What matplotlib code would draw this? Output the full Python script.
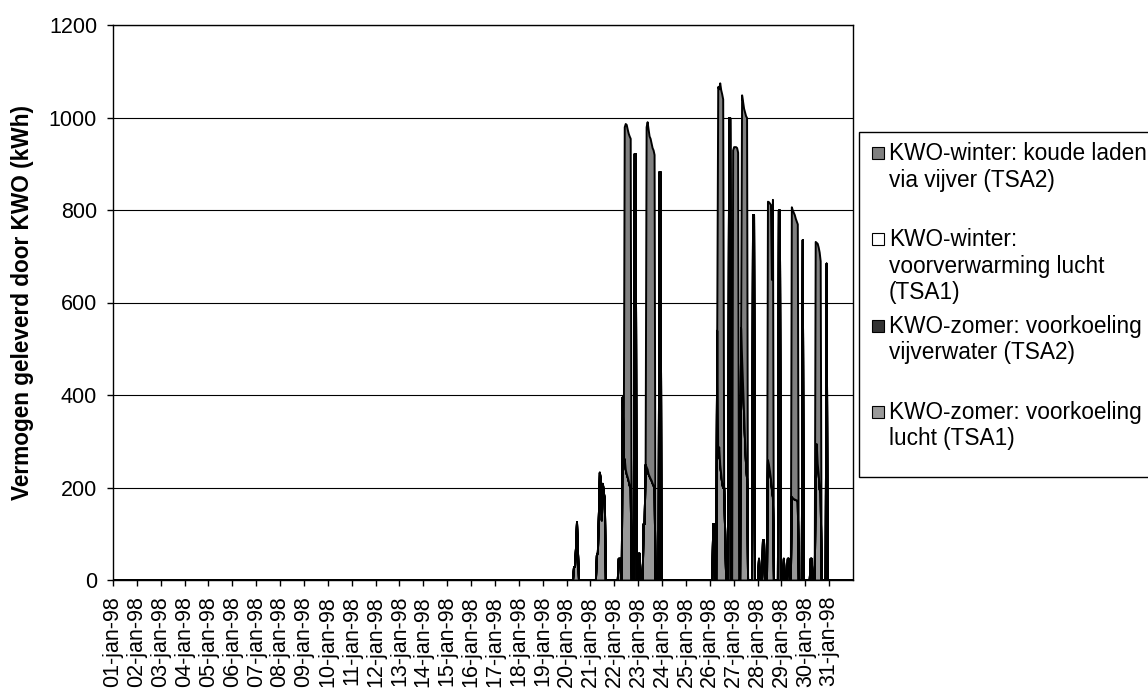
import numpy as np
import matplotlib.pyplot as plt
from matplotlib.patches import Rectangle

plt.rcParams['font.family'] = ['Liberation Sans', 'DejaVu Sans']

# januari 1998, een waarde per uur
n_uren = 744
dag_labels = ["%02d-jan-98" % d for d in range(1, 32)]

# waarden per reeks: {startuur: [kWh per uur, ...]}, rest is 0
# onderste laag van de stapel
voorkoeling_lucht = {
    463: [29, 29, 70, 126, 60],
    486: [54, 60, 140, 233, 215, 130, 209, 190, 173],
    508: [47, 47, 47, 0, 396, 250, 263, 240, 230, 223, 215, 205, 200],
    524: [922, 922],
    528: [58, 58],
    533: [122, 122, 250, 245, 240, 230, 225, 220, 216, 210, 205, 200],
    549: [883, 883],
    603: [122, 122],
    607: [540, 266, 288, 250, 230, 210, 200, 200, 100],
    619: [1000, 1000],
    631: [545, 480, 420, 360, 300, 250, 220],
    643: [790, 790],
    649: [47],
    653: [87, 87],
    658: [260, 250, 236, 220, 197, 180],
    669: [800, 800],
    674: [47],
    678: [47, 47],
    682: [181, 178, 176, 175, 174, 173, 170],
    693: [736],
    701: [47, 47],
    706: [205, 295, 252, 230, 197, 190],
    717: [685],
}
voorkoeling_vijverwater = {}
voorverwarming_lucht = {}
# bovenste laag
koude_laden = {
    514: [717, 747, 755, 752, 751, 755, 755],
    536: [735, 751, 745, 735, 735, 729, 725, 725, 720],
    608: [801, 774, 825, 830, 841, 840],
    623: [930, 937, 937, 937, 935, 925],
    632: [569, 615, 660, 712, 754, 780],
    658: [559, 568, 579, 592, 453, 643],
    682: [626, 622, 619, 615, 608, 603, 600],
    706: [527, 435, 476, 490, 512, 500],
}

labels = ["KWO-winter: koude laden\nvia vijver (TSA2)",
          "KWO-winter:\nvoorverwarming lucht\n(TSA1)",
          "KWO-zomer: voorkoeling\nvijverwater (TSA2)",
          "KWO-zomer: voorkoeling\nlucht (TSA1)"]
kleuren = ["#808080", "#ffffff", "#333333", "#999999"]


def naar_reeks(segmenten):
    y = np.zeros(n_uren)
    for start, waarden in segmenten.items():
        y[start:start + len(waarden)] = waarden
    return y


uren = np.arange(n_uren)
reeksen = [naar_reeks(koude_laden), naar_reeks(voorverwarming_lucht),
           naar_reeks(voorkoeling_vijverwater), naar_reeks(voorkoeling_lucht)]

W, H = 1148, 693
fig = plt.figure(figsize=(W / 100, H / 100), dpi=100)
ax = fig.add_axes([113 / W, 1 - 580 / H, 740 / W, 555 / H])

# excel stapelt in omgekeerde legendavolgorde
ax.stackplot(uren, reeksen[::-1], colors=kleuren[::-1],
             edgecolor='black', linewidth=1.4, zorder=3)

ax.set_xlim(0, n_uren)
ax.set_ylim(0, 1200)
ax.set_yticks(range(0, 1201, 200))
ax.set_xticks(range(0, 721, 24))
ax.set_xticklabels(dag_labels, rotation=90)
ax.yaxis.grid(True, color='black', linewidth=0.8)
ax.set_axisbelow(True)
ax.tick_params(axis='both', direction='out', length=4.5, width=1,
               labelsize=15.5, colors='black')
ax.tick_params(axis='x', pad=7)
ax.tick_params(axis='y', pad=7)
for sp in ax.spines.values():
    sp.set_color('black')
    sp.set_linewidth(1)

fig.text(23 / W, 1 - 302 / H, "Vermogen geleverd door KWO (kWh)",
         rotation=90, ha='center', va='center', fontsize=16.3,
         fontweight='bold')

# legenda met de hand, zoals in excel
fig.add_artist(Rectangle((859 / W, 1 - 477 / H), 320 / W, 345 / H,
                         transform=fig.transFigure, facecolor='white',
                         edgecolor='black', linewidth=1, clip_on=False))
regel_y = [153, 239, 326, 412]
for i, lab in enumerate(labels):
    y0 = regel_y[i]
    fig.add_artist(Rectangle((872 / W, 1 - (y0 + 6) / H), 12 / W, 12 / H,
                             transform=fig.transFigure, facecolor=kleuren[i],
                             edgecolor='black', linewidth=0.8))
    for j, regel in enumerate(lab.split("\n")):
        fig.text(889 / W, 1 - (y0 + j * 27) / H, regel, ha='left',
                 va='center', fontsize=16.3)

fig.savefig("out.png", dpi=100)
